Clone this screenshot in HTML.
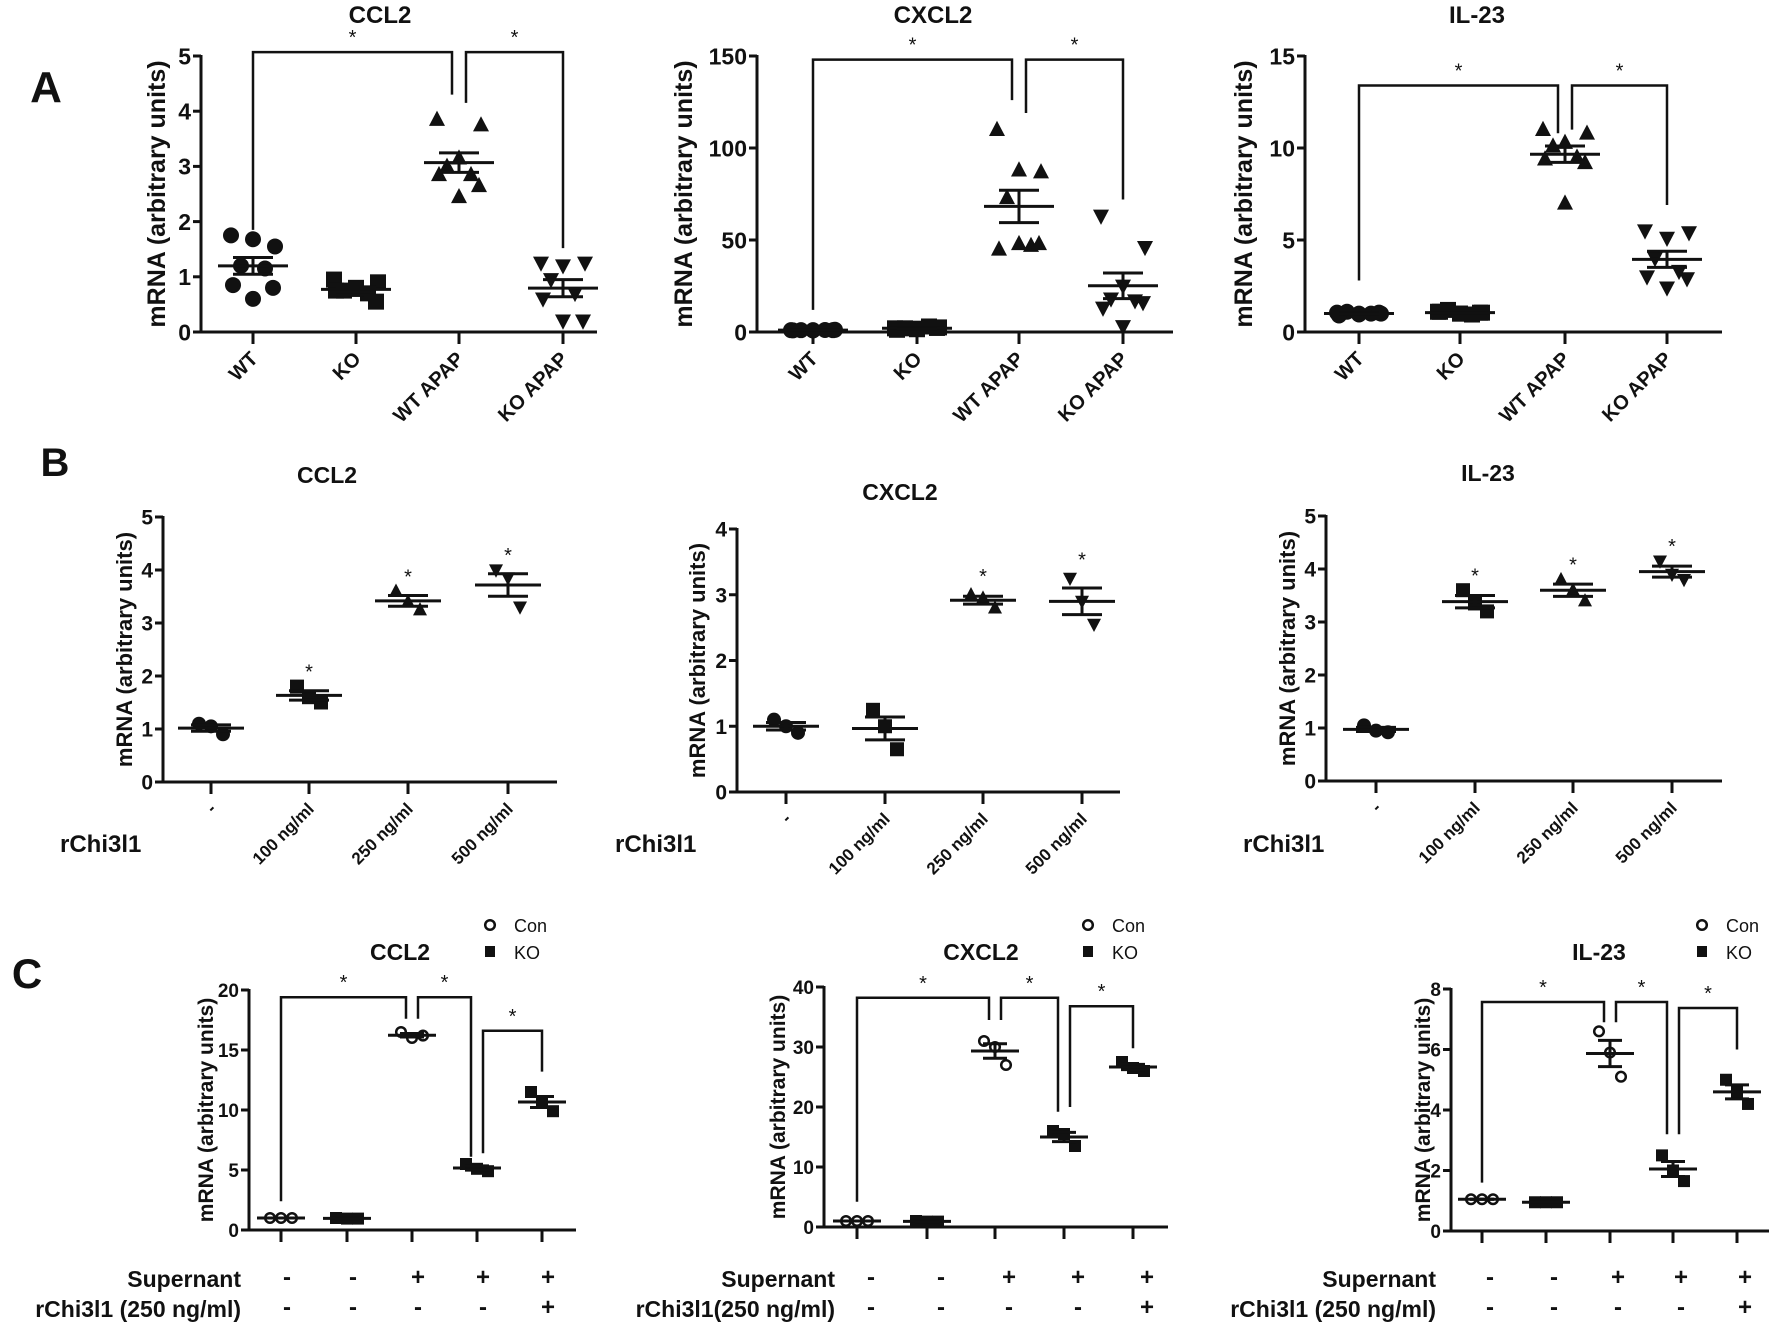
<!DOCTYPE html>
<html><head><meta charset="utf-8"><style>
html,body{margin:0;padding:0;background:#fff}
svg{display:block}
text{font-family:"Liberation Sans",Arial,sans-serif;fill:#111}
</style></head><body>
<svg id="fig" width="1772" height="1330" viewBox="0 0 1772 1330" xmlns="http://www.w3.org/2000/svg">
<text x="46" y="102" font-size="44" font-weight="bold" text-anchor="middle">A</text>
<text x="55" y="476" font-size="40" font-weight="bold" text-anchor="middle">B</text>
<text x="27" y="988" font-size="42" font-weight="bold" text-anchor="middle">C</text>
</svg>
<script>
// ---------- Panel A data ----------
const catsA = ["WT", "KO", "WT APAP", "KO APAP"];
const a1_WT = [1.75, 1.55, 1.68, 1.2, 1.15, 0.85, 0.8, 0.6];
const a1_KO = [0.95, 0.9, 0.8, 0.75, 0.7, 0.75, 0.55, 0.78];
const a1_WTAPAP = [3.85, 3.75, 3.15, 3.0, 2.85, 2.85, 2.65, 2.45];
const a1_KOAPAP = [1.25, 1.25, 1.2, 0.95, 0.7, 0.6, 0.2, 0.2];
const a1_ticks = [0, 1, 2, 3, 4, 5];

const a2_WT = [1, 1.2, 0.8, 1, 1.1, 0.9, 1, 1];
const a2_KO = [2, 2.5, 1.5, 2, 3, 1.2, 2.2, 1.8];
const a2_WTAPAP = [110, 87, 88, 73, 47, 45, 48, 48];
const a2_KOAPAP = [63, 46, 25, 18, 17, 13, 16, 3];
const a2_ticks = [0, 50, 100, 150];

const a3_WT = [1.05, 1.0, 0.95, 1.1, 1.0, 0.9, 1.05, 1.0];
const a3_KO = [1.1, 1.05, 1.0, 1.2, 0.95, 1.1, 1.05, 1.0];
const a3_WTAPAP = [11, 10.8, 10.3, 10.1, 9.5, 9.4, 9.2, 7.0];
const a3_KOAPAP = [5.5, 5.4, 5.1, 4.0, 3.3, 3.0, 2.9, 2.4];
const a3_ticks = [0, 5, 10, 15];

// ---------- Panel B data ----------
const catsB = ["-", "100 ng/ml", "250 ng/ml", "500 ng/ml"];
const b1_g0 = [1.1, 1.05, 0.9];
const b1_g1 = [1.8, 1.6, 1.5];
const b1_g2 = [3.6, 3.4, 3.25];
const b1_g3 = [4.0, 3.85, 3.3];
const b1_ticks = [0, 1, 2, 3, 4, 5];
const b1_stars = [0, 1, 1, 1];

const b2_g0 = [1.1, 1.0, 0.9];
const b2_g1 = [1.25, 1.0, 0.65];
const b2_g2 = [3.0, 2.95, 2.8];
const b2_g3 = [3.25, 2.9, 2.55];
const b2_ticks = [0, 1, 2, 3, 4];
const b2_stars = [0, 0, 1, 1];

const b3_g0 = [1.05, 0.95, 0.92];
const b3_g1 = [3.6, 3.35, 3.2];
const b3_g2 = [3.8, 3.6, 3.4];
const b3_g3 = [4.15, 3.9, 3.8];
const b3_ticks = [0, 1, 2, 3, 4, 5];
const b3_stars = [0, 1, 1, 1];

// ---------- Panel C data ----------
const supernant = ["-", "-", "+", "+", "+"];
const rchi = ["-", "-", "-", "-", "+"];
const c1_g0 = [1.0, 1.0, 1.0];
const c1_g1 = [1.0, 0.95, 0.95];
const c1_g2 = [16.5, 16.0, 16.2];
const c1_g3 = [5.5, 5.1, 4.9];
const c1_g4 = [11.5, 10.6, 9.9];
const c1_ticks = [0, 5, 10, 15, 20];

const c2_g0 = [1.0, 1.0, 1.0];
const c2_g1 = [1.0, 0.9, 0.9];
const c2_g2 = [31, 30, 27];
const c2_g3 = [16, 15.5, 13.5];
const c2_g4 = [27.5, 26.5, 26];
const c2_ticks = [0, 10, 20, 30, 40];

const c3_g0 = [1.05, 1.05, 1.05];
const c3_g1 = [0.95, 0.95, 0.95];
const c3_g2 = [6.6, 5.9, 5.1];
const c3_g3 = [2.5, 2.0, 1.65];
const c3_g4 = [5.0, 4.6, 4.2];
const c3_ticks = [0, 2, 4, 6, 8];

// significance brackets: [catA, catB, legA value, legB value, level value]
const a1_sig = [[0, 2, 1.85, 4.3, 5.07], [2, 3, 4.15, 1.52, 5.07]];
const a2_sig = [[0, 2, 12, 126, 148], [2, 3, 119, 72, 148]];
const a3_sig = [[0, 2, 2.8, 10.8, 13.4], [2, 3, 11.0, 6.9, 13.4]];
const c1_sig = [[0, 2, 2.4, 17.6, 19.4], [2, 3, 17.6, 6.1, 19.4], [3, 4, 6.4, 13.2, 16.6]];
const c2_sig = [[0, 2, 4.2, 34.5, 38.2], [2, 3, 34.5, 19.2, 38.2], [3, 4, 20, 29.8, 36.8]];
const c3_sig = [[0, 2, 1.6, 6.9, 7.57], [2, 3, 6.9, 3.2, 7.57], [3, 4, 3.2, 6.0, 7.37]];

const NS = "http://www.w3.org/2000/svg";
const svg = document.getElementById("fig");
function mk(tag, attrs, parent) {
  const e = document.createElementNS(NS, tag);
  for (const k in attrs) e.setAttribute(k, attrs[k]);
  (parent || svg).appendChild(e);
  return e;
}
function mean(a) { return a.reduce((s, v) => s + v, 0) / a.length; }
function sem(a) { const m = mean(a); const v = a.reduce((s, x) => s + (x - m) * (x - m), 0) / (a.length - 1); return Math.sqrt(v / a.length); }

function marker(g, shape, cx, cy, r) {
  let e;
  if (shape === "circle") e = mk("circle", { cx, cy, r, fill: "#111" }, g);
  else if (shape === "ocircle") e = mk("circle", { cx, cy, r: r * 0.8, fill: "#fff", stroke: "#111", "stroke-width": 2.5 }, g);
  else if (shape === "square") e = mk("rect", { x: cx - r, y: cy - r, width: 2 * r, height: 2 * r, fill: "#111" }, g);
  else if (shape === "tri") e = mk("polygon", { points: `${cx},${cy - r * 1.1} ${cx - r},${cy + r * 0.8} ${cx + r},${cy + r * 0.8}`, fill: "#111" }, g);
  else e = mk("polygon", { points: `${cx},${cy + r * 1.1} ${cx - r},${cy - r * 0.8} ${cx + r},${cy - r * 0.8}`, fill: "#111" }, g);
  
  
}

function drawPanel(p) {
  const g = mk("g", {});
  
  
  const ymax = p.ticks[p.ticks.length - 1];
  const ys = v => p.y0 - v / ymax * (p.y0 - p.yTop);
  const ya = mk("line", { x1: p.ax, y1: p.yTop - 1, x2: p.ax, y2: p.y0, stroke: "#111", "stroke-width": 3 }, g);
  
  
  const xa = mk("line", { x1: p.ax - 8, y1: p.y0, x2: p.xEnd, y2: p.y0, stroke: "#111", "stroke-width": 3 }, g);
  
  
  p.ticks.forEach(t => {
    const y = ys(t);
    mk("line", { x1: p.ax - 8, y1: y, x2: p.ax, y2: y, stroke: "#111", "stroke-width": 3 }, g);
    const tl = mk("text", { x: p.ax - 10, y: y + p.tickFs * 0.36, "font-size": p.tickFs, "font-weight": "bold", "text-anchor": "end" }, g);
    tl.textContent = t;
    
    
  });
  p.catX.forEach(x => mk("line", { x1: x, y1: p.y0, x2: x, y2: p.y0 + 12, stroke: "#111", "stroke-width": 3 }, g));
  const yt = mk("text", { x: p.ytX, y: (p.y0 + p.yTop) / 2, "font-size": p.ytFs, "font-weight": "bold", "text-anchor": "middle", transform: `rotate(-90 ${p.ytX} ${(p.y0 + p.yTop) / 2})` }, g);
  yt.textContent = "mRNA (arbitrary units)";
  
  
  const tt = mk("text", { x: p.titleX, y: p.titleY, "font-size": p.titleFs, "font-weight": "bold", "text-anchor": "middle" }, g);
  tt.textContent = p.title;
  
  
  if (p.cats) {
    p.cats.forEach((c, i) => {
      const x = p.catX[i] + 6, y = p.y0 + 28;
      const cl = mk("text", { x, y, "font-size": p.catFs, "font-weight": "bold", "text-anchor": "end", transform: `rotate(-45 ${x} ${y})` }, g);
      cl.textContent = c;
      
      
    });
  }
  p.groups.forEach((arr, i) => {
    const cx = p.catX[i];
    const jit = arr.length === 3 ? [-p.jw, 0, p.jw] : [-22, 22, 0, -12, 12, -20, 20, 0];
    arr.forEach((v, j) => marker(g, p.shapes[i], cx + jit[j % jit.length], ys(v), p.mr));
    const m = mean(arr), s = sem(arr);
    const ml = mk("line", { x1: cx - p.mw, y1: ys(m), x2: cx + p.mw, y2: ys(m), stroke: "#111", "stroke-width": 3 }, g);
    
    
    mk("line", { x1: cx, y1: ys(m + s), x2: cx, y2: ys(m - s), stroke: "#111", "stroke-width": 3 }, g);
    mk("line", { x1: cx - p.sw, y1: ys(m + s), x2: cx + p.sw, y2: ys(m + s), stroke: "#111", "stroke-width": 3 }, g);
    mk("line", { x1: cx - p.sw, y1: ys(m - s), x2: cx + p.sw, y2: ys(m - s), stroke: "#111", "stroke-width": 3 }, g);
    if (p.stars && p.stars[i]) {
      const st = mk("text", { x: cx, y: ys(Math.max(...arr) + p.starGap) + 8, "font-size": 20, "text-anchor": "middle" }, g);
      st.textContent = "*";
      
      
    }
  });
  if (p.sig) {
    const starts = p.sig.map(b => b[0]);
    p.sig.forEach(b => {
      const xa1 = p.catX[b[0]] + (b[0] > 0 ? p.gap : 0);
      const xb1 = p.catX[b[1]] - (starts.indexOf(b[1]) >= 0 ? p.gap : 0);
      const ly = ys(b[4]);
      const br = mk("polyline", { points: `${xa1},${ys(b[2])} ${xa1},${ly} ${xb1},${ly} ${xb1},${ys(b[3])}`, fill: "none", stroke: "#111", "stroke-width": 2.5 }, g);
      
      
      const st = mk("text", { x: (xa1 + xb1) / 2, y: ly - 8, "font-size": 20, "text-anchor": "middle" }, g);
      st.textContent = "*";
      
      
    });
  }
  if (p.signs) {
    const l1 = mk("text", { x: p.signLabelX, y: p.signY1, "font-size": 23, "font-weight": "bold", "text-anchor": "end" }, g);
    l1.textContent = "Supernant";
    
    
    const l2 = mk("text", { x: p.signLabelX, y: p.signY2, "font-size": 23, "font-weight": "bold", "text-anchor": "end" }, g);
    l2.textContent = p.rchiLabel;
    
    
    supernant.forEach((s, i) => {
      const t = mk("text", { x: p.catX[i] + p.signDx, y: p.signY1 - 2, "font-size": 24, "font-weight": "bold", "text-anchor": "middle" }, g);
      t.textContent = s;
      
      
    });
    rchi.forEach((s, i) => {
      const t = mk("text", { x: p.catX[i] + p.signDx, y: p.signY2 - 2, "font-size": 24, "font-weight": "bold", "text-anchor": "middle" }, g);
      t.textContent = s;
      
      
    });
    marker(g, "ocircle", p.legX, 925, 6);
    mk("rect", { x: p.legX - 5, y: 946, width: 10, height: 11, fill: "#111" }, g);
    const lc = mk("text", { x: p.legX + 24, y: 932, "font-size": 18 }, g);
    lc.textContent = "Con";
    
    
    const lk = mk("text", { x: p.legX + 24, y: 959, "font-size": 18 }, g);
    lk.textContent = "KO";
    
    
  }
  if (p.rowLabel) {
    const rl = mk("text", { x: p.rowLabelX, y: 852, "font-size": 24, "font-weight": "bold" }, g);
    rl.textContent = "rChi3l1";
    
    
  }
}

const shapesA = ["circle", "square", "tri", "itri"];
const shapesC = ["ocircle", "square", "ocircle", "square", "square"];
const baseA = { yTop: 56, y0: 332, tickFs: 23, ytFs: 25, titleFs: 24, titleY: 23, catFs: 20, mr: 8, mw: 35, sw: 20, gap: 7, cats: catsA, shapes: shapesA };
drawPanel(Object.assign({}, baseA, { name: "chart-a-ccl2", ax: 201, xEnd: 597, catX: [253, 356, 459, 563], ticks: a1_ticks, groups: [a1_WT, a1_KO, a1_WTAPAP, a1_KOAPAP], sig: a1_sig, ytX: 165, title: "CCL2", titleX: 380 }));
drawPanel(Object.assign({}, baseA, { name: "chart-a-cxcl2", ax: 757, xEnd: 1173, catX: [813, 917, 1019, 1123], ticks: a2_ticks, groups: [a2_WT, a2_KO, a2_WTAPAP, a2_KOAPAP], sig: a2_sig, ytX: 692, title: "CXCL2", titleX: 933 }));
drawPanel(Object.assign({}, baseA, { name: "chart-a-il23", ax: 1305, xEnd: 1722, catX: [1359, 1460, 1565, 1667], ticks: a3_ticks, groups: [a3_WT, a3_KO, a3_WTAPAP, a3_KOAPAP], sig: a3_sig, ytX: 1252, title: "IL-23", titleX: 1477 }));

const baseB = { tickFs: 21, ytFs: 22, titleFs: 23, catFs: 17, mr: 7, mw: 33, sw: 20, jw: 12, shapes: shapesA, cats: catsB, starGap: 0.3, rowLabel: true };
drawPanel(Object.assign({}, baseB, { name: "chart-b-ccl2", ax: 163, xEnd: 557, yTop: 517, y0: 782, catX: [211, 309, 408, 508], ticks: b1_ticks, groups: [b1_g0, b1_g1, b1_g2, b1_g3], stars: b1_stars, ytX: 132, title: "CCL2", titleX: 327, titleY: 483, rowLabelX: 60 }));
drawPanel(Object.assign({}, baseB, { name: "chart-b-cxcl2", ax: 737, xEnd: 1120, yTop: 529, y0: 792, catX: [786, 885, 983, 1082], ticks: b2_ticks, groups: [b2_g0, b2_g1, b2_g2, b2_g3], stars: b2_stars, ytX: 705, title: "CXCL2", titleX: 900, titleY: 500, rowLabelX: 615 }));
drawPanel(Object.assign({}, baseB, { name: "chart-b-il23", ax: 1326, xEnd: 1722, yTop: 516, y0: 781, catX: [1376, 1475, 1573, 1672], ticks: b3_ticks, groups: [b3_g0, b3_g1, b3_g2, b3_g3], stars: b3_stars, ytX: 1295, title: "IL-23", titleX: 1488, titleY: 481, rowLabelX: 1243 }));

const baseC = { tickFs: 19, ytFs: 21, titleFs: 23, titleY: 960, mr: 6, mw: 24, sw: 12, jw: 11, gap: 6, shapes: shapesC, signs: true, signY1: 1287, signY2: 1317 };
drawPanel(Object.assign({}, baseC, { name: "chart-c-ccl2", ax: 249, xEnd: 576, yTop: 990, y0: 1230, catX: [281, 347, 412, 477, 542], ticks: c1_ticks, groups: [c1_g0, c1_g1, c1_g2, c1_g3, c1_g4], sig: c1_sig, ytX: 213, title: "CCL2", titleX: 400, legX: 490, signLabelX: 241, signDx: 6, rchiLabel: "rChi3l1 (250 ng/ml)" }));
drawPanel(Object.assign({}, baseC, { name: "chart-c-cxcl2", ax: 824, xEnd: 1168, yTop: 987, y0: 1227, catX: [857, 927, 995, 1064, 1133], ticks: c2_ticks, groups: [c2_g0, c2_g1, c2_g2, c2_g3, c2_g4], sig: c2_sig, ytX: 785, title: "CXCL2", titleX: 981, legX: 1088, signLabelX: 835, signDx: 14, rchiLabel: "rChi3l1(250 ng/ml)" }));
drawPanel(Object.assign({}, baseC, { name: "chart-c-il23", ax: 1451, xEnd: 1769, yTop: 989, y0: 1231, catX: [1482, 1546, 1610, 1673, 1737], ticks: c3_ticks, groups: [c3_g0, c3_g1, c3_g2, c3_g3, c3_g4], sig: c3_sig, ytX: 1430, title: "IL-23", titleX: 1599, legX: 1702, signLabelX: 1436, signDx: 8, rchiLabel: "rChi3l1 (250 ng/ml)" }));
</script>
</body></html>
